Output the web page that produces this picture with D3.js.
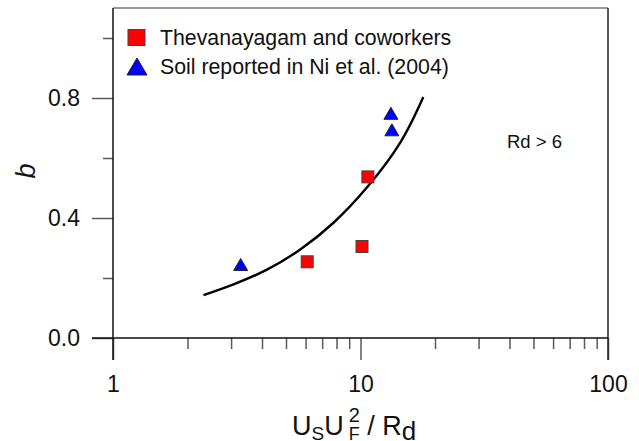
<!DOCTYPE html>
<html>
<head>
<meta charset="utf-8">
<script src="https://cdn.jsdelivr.net/npm/d3@7"></script>
<style>
  html, body { margin: 0; padding: 0; background: #fff; }
  svg { display: block; font-family: Arial, "Liberation Sans", sans-serif; }
</style>
</head>
<body>
<svg id="chart" width="639" height="441"></svg>
<script>
// Thevanayagam and coworkers (squares)
const thevX = [6.09, 10.14, 10.71];
const thevB = [0.254, 0.305, 0.537];

// Soil reported in Ni et al. (2004) (triangles)
const niX = [3.28, 13.27, 13.39];
const niB = [0.245, 0.749, 0.694];

// Fitted trend line
const fitX = [2.32, 3.07, 4.19, 5.71, 7.80, 10.65, 14.52, 17.94];
const fitB = [0.143, 0.179, 0.228, 0.295, 0.385, 0.503, 0.653, 0.803];

// Axis ticks
const xMajor = [1, 10, 100];
const xMinor = [2, 3, 4, 5, 6, 7, 8, 9, 20, 30, 40, 50, 60, 70, 80, 90];
const yMajor = [0.0, 0.4, 0.8];
const yMinor = [0.2, 0.6, 1.0];

const legendLabels = ["Thevanayagam and coworkers", "Soil reported in Ni et al. (2004)"];
const note = "Rd > 6";

const svg = d3.select("#chart");
const plotL = 113, plotR = 608, plotT = 8, plotB = 338;

const x = d3.scaleLog().domain([1, 100]).range([plotL, plotR]);
const y = d3.scaleLinear().domain([0, 1.1]).range([plotB, plotT]);

const tickColor = "#5a5a5a";
const font = "Arial, 'Liberation Sans', sans-serif";

// Bottom axis: major ticks with labels, minor ticks without
const gx = svg.append("g").attr("transform", `translate(0,${plotB})`)
  .call(d3.axisBottom(x).tickValues(xMajor).tickSize(22).tickSizeOuter(0)
    .tickPadding(16).tickFormat(d3.format("d")));
gx.select(".domain").remove();
gx.selectAll(".tick line").attr("stroke", tickColor).attr("stroke-width", 1.5);
gx.selectAll(".tick text").attr("font-size", 23).attr("fill", "#111").attr("font-family", font);

const gxm = svg.append("g").attr("transform", `translate(0,${plotB})`)
  .call(d3.axisBottom(x).tickValues(xMinor).tickSize(11).tickSizeOuter(0).tickFormat(""));
gxm.select(".domain").remove();
gxm.selectAll(".tick line").attr("stroke", tickColor).attr("stroke-width", 1.5);

// Left axis
const gy = svg.append("g").attr("transform", `translate(${plotL},0)`)
  .call(d3.axisLeft(y).tickValues(yMajor).tickSize(21).tickSizeOuter(0)
    .tickPadding(12).tickFormat(d3.format(".1f")));
gy.select(".domain").remove();
gy.selectAll(".tick line").attr("stroke", tickColor).attr("stroke-width", 1.5);
gy.selectAll(".tick text").attr("font-size", 23).attr("fill", "#111").attr("font-family", font);

const gym = svg.append("g").attr("transform", `translate(${plotL},0)`)
  .call(d3.axisLeft(y).tickValues(yMinor).tickSize(10).tickSizeOuter(0).tickFormat(""));
gym.select(".domain").remove();
gym.selectAll(".tick line").attr("stroke", tickColor).attr("stroke-width", 1.5);

// Plot frame
svg.append("line").attr("x1", plotL).attr("x2", plotR).attr("y1", plotT).attr("y2", plotT)
  .attr("stroke", "#333").attr("stroke-width", 1.2);
svg.append("line").attr("x1", plotR).attr("x2", plotR).attr("y1", plotT).attr("y2", plotB + 22)
  .attr("stroke", "#222").attr("stroke-width", 1.5);
svg.append("line").attr("x1", plotL).attr("x2", plotL).attr("y1", plotT).attr("y2", plotB + 22)
  .attr("stroke", "#111").attr("stroke-width", 1.5);
svg.append("line").attr("x1", plotL - 21).attr("x2", plotR).attr("y1", plotB).attr("y2", plotB)
  .attr("stroke", "#111").attr("stroke-width", 1.5);

// Trend curve
const line = d3.line().x((d, i) => x(fitX[i])).y((d, i) => y(fitB[i])).curve(d3.curveNatural);
svg.append("path").datum(fitX).attr("d", line)
  .attr("fill", "none").attr("stroke", "#000").attr("stroke-width", 2.4);

// Squares
const sq = 12;
svg.append("g").selectAll("rect").data(thevX).join("rect")
  .attr("x", (d) => x(d) - sq / 2)
  .attr("y", (d, i) => y(thevB[i]) - sq / 2)
  .attr("width", sq).attr("height", sq)
  .attr("fill", "#ff0000").attr("stroke", "#444").attr("stroke-width", 1);

// Triangles
const tw = 14, th = 12;
svg.append("g").selectAll("path").data(niX).join("path")
  .attr("d", (d, i) => {
    const cx = x(d), cy = y(niB[i]);
    return `M${cx - tw / 2},${cy + th / 2}L${cx + tw / 2},${cy + th / 2}L${cx},${cy - th / 2}Z`;
  })
  .attr("fill", "#0000ff").attr("stroke", "#222").attr("stroke-width", 1);

// Legend
const lg = svg.append("g");
lg.append("rect").attr("x", 128).attr("y", 29.5).attr("width", 17).attr("height", 16)
  .attr("fill", "#ff0000").attr("stroke", "#444").attr("stroke-width", 1);
lg.append("path").attr("d", "M127,75L147,75L137,58Z")
  .attr("fill", "#0000ff").attr("stroke", "#222").attr("stroke-width", 1);
lg.selectAll("text").data(legendLabels).join("text")
  .attr("x", 160).attr("y", (d, i) => 45 + i * 29)
  .attr("font-size", 21.3).attr("fill", "#111").text((d) => d);

// Annotation
svg.append("text").attr("x", 507).attr("y", 148).attr("font-size", 18.5)
  .attr("fill", "#111").text(note);

// Y-axis title
svg.append("text").attr("transform", "translate(35,171) rotate(-90)")
  .attr("text-anchor", "middle").attr("font-size", 27).attr("font-style", "italic")
  .attr("fill", "#111").text("b");

// X-axis title: U_S U_F^2 / R_d
const title = svg.append("g").attr("fill", "#111").style("white-space", "pre");
let penX = 292;
const base = 435;
function piece(t, size, dy) {
  const el = title.append("text").attr("x", penX).attr("y", base + dy)
    .attr("font-size", size).attr("xml:space", "preserve").text(t);
  penX += el.node().getComputedTextLength();
}
piece("U", 27, 0);
piece("S", 19, 5);
piece("U", 27, 0);
{
  const sup = title.append("text").attr("x", penX + 5).attr("y", base - 13)
    .attr("font-size", 20).text("2");
  const sub = title.append("text").attr("x", penX + 5).attr("y", base + 5)
    .attr("font-size", 18).text("F");
  penX += Math.max(sup.node().getComputedTextLength(), sub.node().getComputedTextLength()) + 5;
}
piece("\u00a0/\u00a0R", 27, 0);
piece("d", 26, 5);
</script>
</body>
</html>
